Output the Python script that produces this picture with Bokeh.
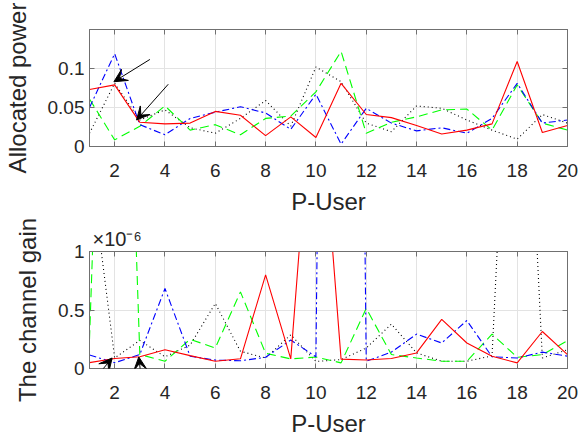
from bokeh.plotting import figure
from bokeh.models import (Range1d, FixedTicker, LinearAxis, Arrow, VeeHead,
                          CustomLabelingPolicy)
from bokeh.layouts import column
from bokeh.embed import file_html
from bokeh.resources import INLINE

# ---------------- data ----------------
users = list(range(1, 21))
x_ticks = list(range(2, 21, 2))

# Allocated power (top panel)
power_red = [0.073, 0.079, 0.031, 0.029, 0.030, 0.045, 0.040, 0.014, 0.038, 0.0115,
             0.081, 0.041, 0.037, 0.027, 0.016, 0.021, 0.029, 0.109, 0.018, 0.027]
power_blue = [0.050, 0.119, 0.028, 0.015, 0.036, 0.044, 0.051, 0.043, 0.022, 0.067,
              0.003, 0.049, 0.030, 0.020, 0.024, 0.017, 0.036, 0.081, 0.030, 0.034]
power_green = [0.061, 0.0085, 0.026, 0.052, 0.021, 0.028, 0.015, 0.036, 0.039, 0.070,
               0.122, 0.017, 0.031, 0.038, 0.047, 0.048, 0.021, 0.079, 0.030, 0.021]
power_black = [0.017, 0.081, 0.034, 0.047, 0.024, 0.017, 0.036, 0.059, 0.026, 0.102,
               0.083, 0.030, 0.019, 0.052, 0.049, 0.034, 0.021, 0.0094, 0.041, 0.030]
power_ticks = [0, 0.05, 0.1]
power_tick_labels = ["0", "0.05", "0.1"]

# Channel gain (bottom panel), in units of 1e-6
gain_red = [0.05, 0.085, 0.10, 0.16, 0.11, 0.062, 0.083, 0.80, 0.082, 2.85,
            0.08, 0.073, 0.085, 0.133, 0.42, 0.218, 0.105, 0.048, 0.316, 0.119]
gain_blue = [0.116, 0.049, 0.12, 0.684, 0.105, 0.072, 0.066, 0.096, 0.243, 0.10,
             20.0, 0.062, 0.14, 0.294, 0.218, 0.41, 0.10, 0.09, 0.14, 0.105]
gain_green = [0.25, 6.5, 0.12, 0.062, 0.25, 0.175, 0.655, 0.13, 0.082, 0.098,
              0.048, 0.514, 0.119, 0.09, 0.062, 0.062, 0.294, 0.096, 0.119, 0.237]
gain_black = [1.8, 0.09, 0.24, 0.10, 0.20, 0.556, 0.147, 0.09, 0.288, 0.06,
              0.076, 0.175, 0.38, 0.133, 0.062, 0.062, 0.108, 4.5, 0.09, 0.16]
gain_ticks = [0, 0.5, 1]
gain_tick_labels = ["0", "0.5", "1"]
gain_exponent_label = "×10⁻⁶"

# annotation arrows: (x_start, y_start, x_end, y_end) in data units
power_arrows = [(3.40, 0.1116, 1.97, 0.083), (4.13, 0.0798, 2.87, 0.034)]
gain_arrows = [(0.97, -0.15, 1.90, 0.09), (3.09, -0.15, 2.96, 0.099)]

FONT = "Liberation Sans"
TXT = "#262626"
AXC = "#707070"
GRID = "#e3e3e3"

line_styles = {
    "black": ("#000000", "1 3"),
    "green": ("#00ff00", "9 5"),
    "blue": ("#0000ff", "7 3 2 3"),
    "red": ("#ff0000", "solid"),
}

NO_LABELS = "for (const i of indices) indices.unset(i)"


def make_panel(series, y_max, y_ticks, y_tick_labels, ylabel, h, top, bottom, arrows):
    p = figure(width=579, height=h, x_range=Range1d(1, 20), y_range=Range1d(0, y_max),
               output_backend="svg", toolbar_location=None,
               min_border_left=89, min_border_right=12,
               min_border_top=top, min_border_bottom=bottom)
    p.background_fill_color = "white"
    p.border_fill_color = "white"
    p.outline_line_color = AXC
    p.outline_line_width = 1

    p.xaxis.ticker = FixedTicker(ticks=x_ticks)
    p.yaxis.ticker = FixedTicker(ticks=y_ticks)
    p.yaxis.major_label_overrides = {t: l for t, l in zip(y_ticks, y_tick_labels)}
    p.xgrid.ticker = FixedTicker(ticks=x_ticks)
    p.ygrid.ticker = FixedTicker(ticks=y_ticks)
    p.grid.grid_line_color = GRID
    p.grid.grid_line_width = 1

    for ax in p.axis:
        ax.axis_line_color = AXC
        ax.major_tick_line_color = AXC
        ax.major_tick_in = 5
        ax.major_tick_out = 0
        ax.minor_tick_line_color = None
        ax.major_label_text_font = FONT
        ax.major_label_text_font_size = "19px"
        ax.major_label_text_color = TXT
        ax.axis_label_text_font = FONT
        ax.axis_label_text_font_size = "24px"
        ax.axis_label_text_font_style = "normal"
        ax.axis_label_text_color = TXT
    p.xaxis.major_label_standoff = 17
    p.yaxis.major_label_standoff = 5
    p.xaxis.axis_label = "P-User"
    p.xaxis.axis_label_standoff = 8
    p.yaxis.axis_label = ylabel
    p.yaxis.axis_label_standoff = 14

    # box ticks on top and right (no labels)
    for side, ticks in (("above", x_ticks), ("right", y_ticks)):
        ax = LinearAxis(ticker=FixedTicker(ticks=ticks), major_label_text_font_size="0px",
                        major_label_policy=CustomLabelingPolicy(code=NO_LABELS),
                        major_label_standoff=0,
                        axis_line_color=AXC, major_tick_line_color=AXC,
                        major_tick_in=5, major_tick_out=0, minor_tick_line_color=None)
        p.add_layout(ax, side)

    for name in ["black", "green", "blue", "red"]:
        color, dash = line_styles[name]
        p.line(users, series[name], line_color=color, line_dash=dash, line_width=1.1)

    for (xs, ys, xe, ye) in arrows:
        p.add_layout(Arrow(x_start=xs, y_start=ys, x_end=xe, y_end=ye,
                           line_color="black", line_width=1,
                           end=VeeHead(size=13, fill_color="black", line_color="black")))
    return p


p1 = make_panel({"red": power_red, "blue": power_blue, "green": power_green, "black": power_black},
                0.15, power_ticks, power_tick_labels, "Allocated power", 217, 29, 70, power_arrows)
p2 = make_panel({"red": gain_red, "blue": gain_blue, "green": gain_green, "black": gain_black},
                1.0, gain_ticks, gain_tick_labels, "The channel gain", 222, 34, 70, gain_arrows)

p2.title.text = gain_exponent_label
p2.title.text_font = FONT
p2.title.text_font_size = "20px"
p2.title.text_font_style = "normal"
p2.title.text_color = TXT
p2.title.align = "left"
p2.title.offset = 3
p2.title.standoff = 3

layout = column(p1, p2, spacing=0)
open("out.html", "w").write(file_html(layout, INLINE))
